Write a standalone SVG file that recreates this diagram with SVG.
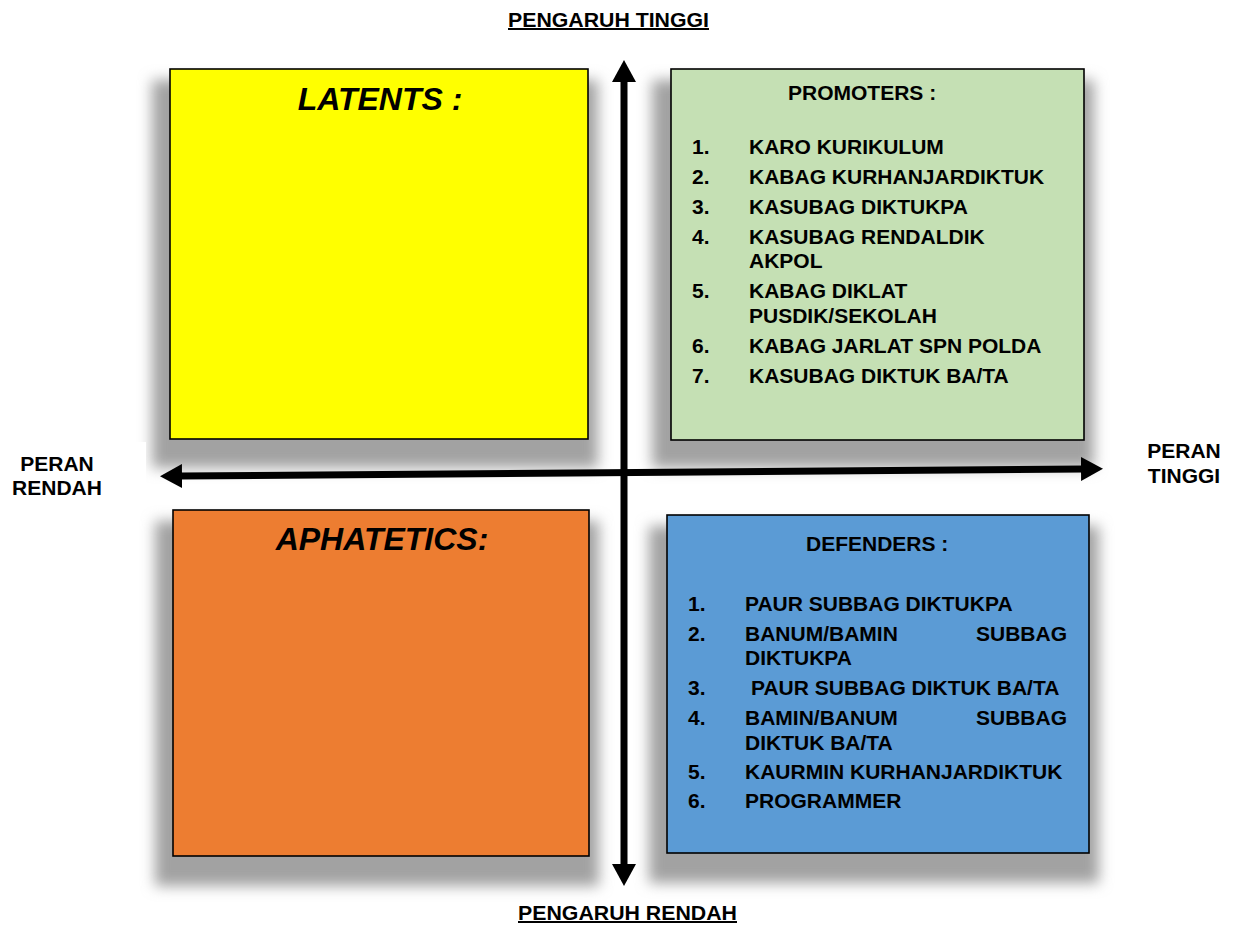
<svg xmlns="http://www.w3.org/2000/svg" width="1236" height="925" viewBox="0 0 1236 925">
<defs>
<filter id="shadow" x="-20%" y="-20%" width="140%" height="140%">
<feGaussianBlur stdDeviation="7"/>
</filter>
<marker id="head" viewBox="0 0 22 24" markerWidth="22" markerHeight="24" markerUnits="userSpaceOnUse" refX="2" refY="12" orient="auto-start-reverse">
<path d="M0,0 L22,12 L0,24 z" fill="#000"/>
</marker>
</defs>
<style>
.t{font-family:"Liberation Sans",Arial,sans-serif;font-weight:bold;fill:#000}
.item{font-size:21px}
.big{font-size:32px;font-style:italic}
.axis{font-size:20px;text-decoration:underline}
.side{font-size:21px}
.box{stroke:#000;stroke-width:1.6}
.sh{fill:#a2a2a2;filter:url(#shadow)}
.conn{stroke:#000;stroke-width:7;fill:none}
</style>
<rect width="1236" height="925" fill="#fff"/>

<g id="latents">
<rect class="sh" x="152" y="80" width="446" height="388"/>
<rect class="box" x="170" y="69" width="418" height="370" fill="#FFFF00"/>
<text class="t big" x="380" y="110" text-anchor="middle">LATENTS :</text>
</g>

<g id="promoters">
<rect class="sh" x="652" y="80" width="442" height="388"/>
<rect class="box" x="671" y="69" width="413" height="371" fill="#C5E0B4"/>
<text class="t item" x="788" y="100">PROMOTERS :</text>
<text class="t item" x="692" y="154">1.</text><text class="t item" x="749" y="154">KARO KURIKULUM</text>
<text class="t item" x="692" y="184">2.</text><text class="t item" x="749" y="184">KABAG KURHANJARDIKTUK</text>
<text class="t item" x="692" y="214">3.</text><text class="t item" x="749" y="214">KASUBAG DIKTUKPA</text>
<text class="t item" x="692" y="244">4.</text><text class="t item" x="749" y="244">KASUBAG RENDALDIK</text>
<text class="t item" x="749" y="268">AKPOL</text>
<text class="t item" x="692" y="298">5.</text><text class="t item" x="749" y="298">KABAG DIKLAT</text>
<text class="t item" x="749" y="323">PUSDIK/SEKOLAH</text>
<text class="t item" x="692" y="353">6.</text><text class="t item" x="749" y="353">KABAG JARLAT SPN POLDA</text>
<text class="t item" x="692" y="383">7.</text><text class="t item" x="749" y="383">KASUBAG DIKTUK BA/TA</text>
</g>

<g id="aphatetics">
<rect class="sh" x="155" y="521" width="444" height="365"/>
<rect class="box" x="173" y="510" width="416" height="346" fill="#ED7D31"/>
<text class="t big" x="382" y="550" text-anchor="middle">APHATETICS:</text>
</g>

<g id="defenders">
<rect class="sh" x="649" y="526" width="450" height="357"/>
<rect class="box" x="667" y="515" width="422" height="338" fill="#5B9BD5"/>
<text class="t item" x="806" y="551">DEFENDERS :</text>
<text class="t item" x="688" y="611">1.</text><text class="t item" x="745" y="611">PAUR SUBBAG DIKTUKPA</text>
<text class="t item" x="688" y="641">2.</text><text class="t item" x="745" y="641">BANUM/BAMIN</text><text class="t item" x="1067" y="641" text-anchor="end">SUBBAG</text>
<text class="t item" x="745" y="665">DIKTUKPA</text>
<text class="t item" x="688" y="695">3.</text><text class="t item" x="751" y="695">PAUR SUBBAG DIKTUK BA/TA</text>
<text class="t item" x="688" y="725">4.</text><text class="t item" x="745" y="725">BAMIN/BANUM</text><text class="t item" x="1067" y="725" text-anchor="end">SUBBAG</text>
<text class="t item" x="745" y="750">DIKTUK BA/TA</text>
<text class="t item" x="688" y="779">5.</text><text class="t item" x="745" y="779">KAURMIN KURHANJARDIKTUK</text>
<text class="t item" x="688" y="808">6.</text><text class="t item" x="745" y="808">PROGRAMMER</text>
</g>

<g id="label-peran-rendah">
<rect x="0" y="442" width="146" height="66" fill="#fff"/>
<text class="t side" x="57" y="471" text-anchor="middle">PERAN</text>
<text class="t side" x="57" y="495" text-anchor="middle">RENDAH</text>
</g>

<g id="label-peran-tinggi">
<text class="t side" x="1184" y="458" text-anchor="middle">PERAN</text>
<text class="t side" x="1184" y="483" text-anchor="middle">TINGGI</text>
</g>

<g id="label-pengaruh-tinggi">
<text class="t axis" x="508" y="27" textLength="201" lengthAdjust="spacingAndGlyphs">PENGARUH TINGGI</text>
</g>

<g id="label-pengaruh-rendah">
<text class="t axis" x="518" y="920" textLength="219" lengthAdjust="spacingAndGlyphs">PENGARUH RENDAH</text>
</g>

<g id="connectors">
<line class="conn" x1="624" y1="80" x2="624" y2="866" marker-start="url(#head)" marker-end="url(#head)"/>
<line class="conn" x1="180" y1="476" x2="1083" y2="469" marker-start="url(#head)" marker-end="url(#head)"/>
</g>
</svg>
